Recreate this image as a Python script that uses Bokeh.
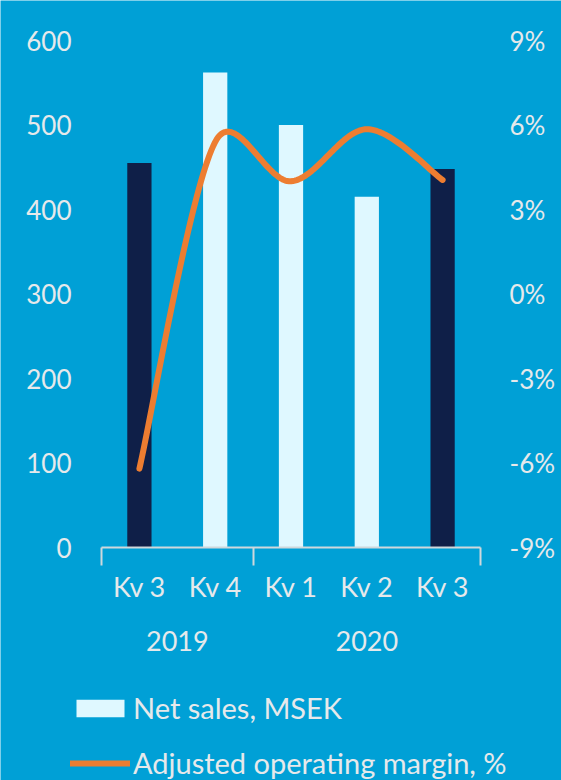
import math
from bokeh.plotting import figure
from bokeh.models import (Range1d, LinearAxis, FixedTicker, PrintfTickFormatter,
                          ColumnDataSource, Legend, LegendItem)
from bokeh.embed import file_html
from bokeh.resources import INLINE

# ---- data ----
quarters = ["Kv 3", "Kv 4", "Kv 1", "Kv 2", "Kv 3"]
years = ["2019", "2020"]
year_span = [2, 3]                       # number of quarters in each year
net_sales = [455, 562, 500, 415, 448]    # MSEK
margin = [-6.2, 5.4, 4.0, 5.85, 4.05]    # %
bar_colors = ["#0F1F48", "#DFF8FF", "#DFF8FF", "#DFF8FF", "#0F1F48"]
left_ticks = [0, 100, 200, 300, 400, 500, 600]
right_ticks = [-9, -6, -3, 0, 3, 6, 9]
legend_labels = ["Net sales, MSEK", "Adjusted operating margin, %"]

BG = "#00A0D6"
TXT = "#E6E9EB"
AXC = "#CFD8DC"
ORANGE = "#ED7D31"
FONT = "Lato"

W, H = 561, 780
PL, PR, PT, PB = 101, 480, 40, 547      # plotting-area edges (px)

n = len(quarters)
xs = [i + 0.5 for i in range(n)]

bounds = [0]
for s in year_span:
    bounds.append(bounds[-1] + s)
year_centres = [(bounds[i] + bounds[i + 1]) / 2 for i in range(len(years))]

# the frame covers the whole canvas; ranges extended so the plotting area
# sits at PL..PR x PT..PB
kx = (PR - PL) / n
ky_l = (PB - PT) / (left_ticks[-1] - left_ticks[0])
ky_r = (PB - PT) / (right_ticks[-1] - right_ticks[0])
x_rng = Range1d(-PL / kx, n + (W - PR) / kx)
yl_rng = Range1d(left_ticks[0] - (H - PB) / ky_l, left_ticks[-1] + PT / ky_l)
yr_rng = Range1d(right_ticks[0] - (H - PB) / ky_r, right_ticks[-1] + PT / ky_r)

# Excel-like smoothed line: Bezier segments with Catmull-Rom tangents,
# control arms limited to half the segment length (in screen space)
def smooth(xp, yp, steps=40):
    P = [(x * kx, y * ky_r) for x, y in zip(xp, yp)]
    m = len(P)
    dist = lambda a, b: math.hypot(a[0] - b[0], a[1] - b[1])
    ox, oy = [], []
    for i in range(m - 1):
        p0 = P[i - 1] if i > 0 else P[i]
        p1, p2 = P[i], P[i + 1]
        p3 = P[i + 2] if i + 2 < m else P[i + 1]
        d02, d12, d13 = dist(p0, p2), dist(p1, p2), dist(p1, p3)
        f1 = f2 = 1 / 6
        if d02 / 6 > d12 / 2:
            f1 = d12 / (2 * d02)
        if d13 / 6 > d12 / 2:
            f2 = d12 / (2 * d13)
        c1 = (p1[0] + f1 * (p2[0] - p0[0]), p1[1] + f1 * (p2[1] - p0[1]))
        c2 = (p2[0] - f2 * (p3[0] - p1[0]), p2[1] - f2 * (p3[1] - p1[1]))
        for k in range(steps + (1 if i == m - 2 else 0)):
            t = k / steps
            a, b = (1 - t) ** 3, 3 * (1 - t) ** 2 * t
            c, d = 3 * (1 - t) * t ** 2, t ** 3
            ox.append((a * p1[0] + b * c1[0] + c * c2[0] + d * p2[0]) / kx)
            oy.append((a * p1[1] + b * c1[1] + c * c2[1] + d * p2[1]) / ky_r)
    return ox, oy

sx, sy = smooth(xs, margin)

p = figure(width=W, height=H, output_backend="svg", toolbar_location=None,
           x_range=x_rng, y_range=yl_rng, min_border=0,
           x_axis_location=None, y_axis_location=None)
p.extra_y_ranges = {"pct": yr_rng}
p.background_fill_color = BG
p.border_fill_color = BG
p.outline_line_color = None
p.xgrid.visible = False
p.ygrid.visible = False

src = ColumnDataSource(dict(x=xs, top=net_sales, color=bar_colors))
bars = p.vbar(x="x", top="top", bottom=0, width=0.32, fill_color="color",
              line_color=None, source=src)
line = p.line(sx, sy, y_range_name="pct", line_color=ORANGE, line_width=6,
              line_cap="round", line_join="round")

def style_side(ax, standoff):
    ax.axis_line_color = None
    ax.major_tick_line_color = None
    ax.minor_tick_line_color = None
    ax.major_tick_out = 0
    ax.minor_tick_out = 0
    ax.major_label_standoff = standoff
    ax.major_label_text_font = FONT
    ax.major_label_text_font_size = "26px"
    ax.major_label_text_color = TXT

la = LinearAxis(ticker=FixedTicker(ticks=left_ticks, minor_ticks=[]), fixed_location=0)
style_side(la, 30)
p.add_layout(la, "left")

ra = LinearAxis(y_range_name="pct", ticker=FixedTicker(ticks=right_ticks, minor_ticks=[]),
                formatter=PrintfTickFormatter(format="%d%%"), fixed_location=n)
style_side(ra, 29)
p.add_layout(ra, "right")

qa = LinearAxis(ticker=FixedTicker(ticks=xs, minor_ticks=bounds), fixed_location=0,
                bounds=(0, n))
qa.major_label_overrides = {x: q for x, q in zip(xs, quarters)}
qa.axis_line_color = AXC
qa.axis_line_width = 2
qa.major_tick_line_color = None
qa.major_tick_out = 0
qa.major_tick_in = 0
qa.minor_tick_line_color = AXC
qa.minor_tick_line_width = 2
qa.minor_tick_out = 18
qa.minor_tick_in = 0
qa.major_label_standoff = 4
qa.major_label_text_font = FONT
qa.major_label_text_font_size = "27px"
qa.major_label_text_color = TXT
p.add_layout(qa, "below")

ya = LinearAxis(ticker=FixedTicker(ticks=year_centres, minor_ticks=[]), fixed_location=0,
                bounds=(0, n))
ya.major_label_overrides = {x: y for x, y in zip(year_centres, years)}
ya.axis_line_color = None
ya.major_tick_line_color = None
ya.minor_tick_line_color = None
ya.major_tick_out = 0
ya.minor_tick_out = 0
ya.major_label_standoff = 83
ya.major_label_text_font = FONT
ya.major_label_text_font_size = "27px"
ya.major_label_text_color = TXT
p.add_layout(ya, "below")

legend = Legend(items=[LegendItem(label=legend_labels[0], renderers=[bars], index=1),
                       LegendItem(label=legend_labels[1], renderers=[line])],
                location=(70, 0))
legend.glyph_width = 60
legend.glyph_height = 22
legend.label_standoff = 3
legend.spacing = 20
legend.padding = 0
legend.margin = 0
legend.border_line_color = None
legend.background_fill_alpha = 0
legend.label_text_font = FONT
legend.label_text_font_size = "29px"
legend.label_text_color = TXT
p.add_layout(legend)

open("out.html", "w").write(file_html(p, INLINE))
